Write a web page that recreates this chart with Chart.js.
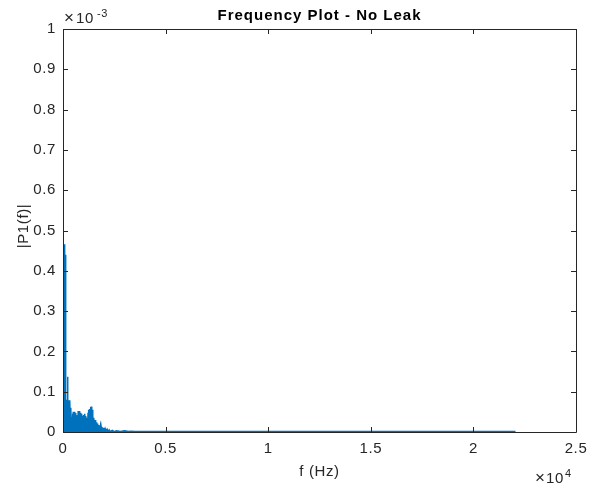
<!DOCTYPE html>
<html>
<head>
<meta charset="utf-8">
<script src="https://cdn.jsdelivr.net/npm/chart.js@4.4.1/dist/chart.umd.min.js"></script>
<style>
  body { margin: 0; background: #fff; }
  #freqChart { display: block; }
</style>
</head>
<body>
<canvas id="freqChart" width="589" height="491"></canvas>
<script>
// frequency bins (Hz) and single-sided amplitude (units of 1e-3)
const freqs = [
  0, 20, 40, 60, 80, 100, 120, 140, 160, 180,
  200, 220, 240, 260, 280, 300, 320, 340, 360, 380,
  400, 420, 440, 460, 480, 500, 520, 540, 560, 580,
  600, 620, 640, 660, 680, 700, 720, 740, 760, 780,
  800, 820, 840, 860, 880, 900, 920, 940, 960, 980,
  1000, 1020, 1040, 1060, 1080, 1100, 1120, 1140, 1160, 1180,
  1200, 1220, 1240, 1260, 1280, 1300, 1320, 1340, 1360, 1380,
  1400, 1420, 1440, 1460, 1480, 1500, 1520, 1540, 1560, 1580,
  1600, 1620, 1640, 1660, 1680, 1700, 1720, 1740, 1760, 1780,
  1800, 1820, 1840, 1860, 1880, 1900, 1920, 1940, 1960, 1980,
  2000, 2050, 2100, 2150, 2200, 2250, 2300, 2400, 2500, 2600,
  2800, 3000, 3200, 3300, 3500, 4000, 4500, 5000, 6000, 7000,
  8000, 9000, 10000, 11000, 12000, 13000, 14000, 15000, 16000, 17000,
  18000, 19000, 20000, 21000, 22050
];
const amps = [
  0.283, 0.09, 0.30, 0.35, 0.466, 0.02, 0.44, 0.03, 0.08, 0.01,
  0.06, 0.137, 0.02, 0.07, 0.01, 0.079, 0.02, 0.075, 0.01, 0.06,
  0.005, 0.038, 0.01, 0.045, 0.008, 0.05, 0.01, 0.048, 0.006, 0.05,
  0.01, 0.047, 0.012, 0.038, 0.005, 0.042, 0.01, 0.052, 0.008, 0.05,
  0.012, 0.052, 0.006, 0.048, 0.01, 0.045, 0.005, 0.04, 0.01, 0.037,
  0.006, 0.042, 0.01, 0.045, 0.008, 0.04, 0.005, 0.03, 0.01, 0.035,
  0.008, 0.048, 0.01, 0.055, 0.006, 0.057, 0.012, 0.062, 0.008, 0.063,
  0.01, 0.055, 0.006, 0.04, 0.01, 0.035, 0.005, 0.03, 0.008, 0.03,
  0.004, 0.024, 0.006, 0.021, 0.004, 0.019, 0.005, 0.017, 0.003, 0.016,
  0.004, 0.014, 0.002, 0.013, 0.003, 0.012, 0.002, 0.011, 0.003, 0.01,
  0.002, 0.009, 0.002, 0.007, 0.001, 0.005, 0.001, 0.004, 0.001, 0.003,
  0.001, 0.003, 0.001, 0.002, 0.001, 0.0015, 0.001, 0.0012, 0.001, 0.0015,
  0.001, 0.0012, 0.001, 0.0014, 0.001, 0.0012, 0.001, 0.0013, 0.001, 0.0012,
  0.001, 0.0013, 0.001, 0.0012, 0.001
];
const xTicks = [0, 5000, 10000, 15000, 20000, 25000];
const yTicks = [0, 0.1, 0.2, 0.3, 0.4, 0.5, 0.6, 0.7, 0.8, 0.9, 1];

const FONT = '"Liberation Sans", Arial, sans-serif';
const INK = '#262626';

// the reference text is a bit wider than Liberation Sans, widen a little
const textSpacing = {
  id: 'textSpacing',
  beforeDraw(chart) {
    chart.ctx.letterSpacing = '0.6px';
  }
};

// draws the title, axis labels, exponent markers and the boxed frame with inward ticks
const matlabFrame = {
  id: 'matlabFrame',
  afterDraw(chart) {
    const ctx = chart.ctx;
    const a = chart.chartArea;
    const xs = chart.scales.x;
    const ys = chart.scales.y;
    ctx.save();
    ctx.strokeStyle = INK;
    ctx.lineWidth = 1;
    ctx.beginPath();
    ctx.rect(Math.round(a.left) + 0.5, Math.round(a.top) + 0.5,
      Math.round(a.right - a.left), Math.round(a.bottom - a.top));
    xTicks.forEach(v => {
      const px = Math.round(xs.getPixelForValue(v)) + 0.5;
      ctx.moveTo(px, a.bottom); ctx.lineTo(px, a.bottom - 5);
      ctx.moveTo(px, a.top); ctx.lineTo(px, a.top + 5);
    });
    yTicks.forEach(v => {
      const py = Math.round(ys.getPixelForValue(v)) + 0.5;
      ctx.moveTo(a.left, py); ctx.lineTo(a.left + 5, py);
      ctx.moveTo(a.right, py); ctx.lineTo(a.right - 5, py);
    });
    ctx.stroke();

    ctx.fillStyle = '#000';
    ctx.letterSpacing = '1px';
    ctx.font = 'bold 15px ' + FONT;
    ctx.textAlign = 'center';
    ctx.textBaseline = 'alphabetic';
    ctx.fillText('Frequency Plot - No Leak', (a.left + a.right) / 2, 20);

    ctx.letterSpacing = '0.6px';
    ctx.fillStyle = INK;
    ctx.font = '15px ' + FONT;
    ctx.fillText('f (Hz)', (a.left + a.right) / 2, 476);

    ctx.save();
    ctx.translate(28, 226);
    ctx.rotate(-Math.PI / 2);
    ctx.fillText('|P1(f)|', 0, 0);
    ctx.restore();

    // exponent markers
    ctx.textAlign = 'left';
    ctx.letterSpacing = '0px';
    ctx.font = '17px ' + FONT;
    ctx.fillText('\u00d7', 64, 23);
    ctx.letterSpacing = '0.6px';
    ctx.font = '15px ' + FONT;
    ctx.fillText('10', 76, 23);
    ctx.font = '11px ' + FONT;
    ctx.fillText('-3', 97, 17);

    ctx.letterSpacing = '0px';
    ctx.font = '17px ' + FONT;
    ctx.fillText('\u00d7', 535, 483);
    ctx.letterSpacing = '0.6px';
    ctx.font = '15px ' + FONT;
    ctx.fillText('10', 546, 483);
    ctx.font = '11px ' + FONT;
    ctx.fillText('4', 565, 477);
    ctx.restore();
  }
};

function makeChart() {
  const ctx = document.getElementById('freqChart');
  const points = freqs.map((f, i) => ({ x: f, y: amps[i] }));

  const chart = new Chart(ctx, {
    type: 'line',
    data: {
      datasets: [{
        data: points,
        borderColor: '#0072BD',
        backgroundColor: '#0072BD',
        borderWidth: 1.5,
        pointRadius: 0,
        fill: 'origin',
        tension: 0
      }]
    },
    options: {
      responsive: false,
      animation: false,
      events: [],
      layout: { padding: { top: 29, right: 13, left: 0, bottom: 0 } },
      plugins: {
        legend: { display: false },
        title: { display: false },
        tooltip: { enabled: false }
      },
      scales: {
        x: {
          type: 'linear',
          min: 0,
          max: 25000,
          afterFit: scale => {
            scale.height = 59;
            scale.paddingLeft = 0;
            scale.paddingRight = 0;
          },
          afterBuildTicks: scale => { scale.ticks = xTicks.map(v => ({ value: v })); },
          grid: { display: false, drawTicks: false },
          border: { display: false },
          ticks: {
            color: INK,
            font: { family: FONT, size: 15 },
            padding: 8,
            maxRotation: 0,
            callback: v => String(v / 10000)
          }
        },
        y: {
          type: 'linear',
          min: 0,
          max: 1,
          afterFit: scale => {
            scale.width = 63;
            scale.paddingTop = 0;
            scale.paddingBottom = 0;
          },
          afterBuildTicks: scale => { scale.ticks = yTicks.map(v => ({ value: v })); },
          grid: { display: false, drawTicks: false },
          border: { display: false },
          ticks: {
            color: INK,
            font: { family: FONT, size: 15 },
            padding: 7,
            callback: v => String(Math.round(v * 10) / 10)
          }
        }
      }
    },
    plugins: [textSpacing, matlabFrame]
  });
  return chart;
}

document.addEventListener('DOMContentLoaded', function() {
  makeChart();
});
</script>
</body>
</html>
